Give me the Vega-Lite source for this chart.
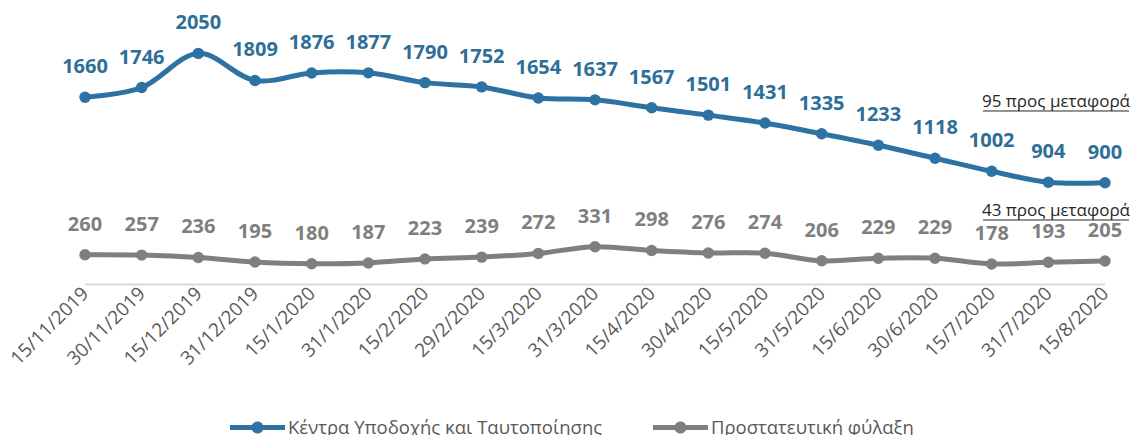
{
  "$schema": "https://vega.github.io/schema/vega-lite/v6.json",
  "width": 1020,
  "height": 270,
  "autosize": {"type": "none"},
  "padding": {"left": 85, "top": 14, "right": 25, "bottom": 151},
  "background": "white",
  "config": {
    "view": {"stroke": null},
    "font": "Open Sans"
  },
  "datasets": {
    "main": [
      {"date": "15/11/2019", "series": "Κέντρα Υποδοχής και Ταυτοποίησης", "value": 1660},
      {"date": "30/11/2019", "series": "Κέντρα Υποδοχής και Ταυτοποίησης", "value": 1746},
      {"date": "15/12/2019", "series": "Κέντρα Υποδοχής και Ταυτοποίησης", "value": 2050},
      {"date": "31/12/2019", "series": "Κέντρα Υποδοχής και Ταυτοποίησης", "value": 1809},
      {"date": "15/1/2020", "series": "Κέντρα Υποδοχής και Ταυτοποίησης", "value": 1876},
      {"date": "31/1/2020", "series": "Κέντρα Υποδοχής και Ταυτοποίησης", "value": 1877},
      {"date": "15/2/2020", "series": "Κέντρα Υποδοχής και Ταυτοποίησης", "value": 1790},
      {"date": "29/2/2020", "series": "Κέντρα Υποδοχής και Ταυτοποίησης", "value": 1752},
      {"date": "15/3/2020", "series": "Κέντρα Υποδοχής και Ταυτοποίησης", "value": 1654},
      {"date": "31/3/2020", "series": "Κέντρα Υποδοχής και Ταυτοποίησης", "value": 1637},
      {"date": "15/4/2020", "series": "Κέντρα Υποδοχής και Ταυτοποίησης", "value": 1567},
      {"date": "30/4/2020", "series": "Κέντρα Υποδοχής και Ταυτοποίησης", "value": 1501},
      {"date": "15/5/2020", "series": "Κέντρα Υποδοχής και Ταυτοποίησης", "value": 1431},
      {"date": "31/5/2020", "series": "Κέντρα Υποδοχής και Ταυτοποίησης", "value": 1335},
      {"date": "15/6/2020", "series": "Κέντρα Υποδοχής και Ταυτοποίησης", "value": 1233},
      {"date": "30/6/2020", "series": "Κέντρα Υποδοχής και Ταυτοποίησης", "value": 1118},
      {"date": "15/7/2020", "series": "Κέντρα Υποδοχής και Ταυτοποίησης", "value": 1002},
      {"date": "31/7/2020", "series": "Κέντρα Υποδοχής και Ταυτοποίησης", "value": 904},
      {"date": "15/8/2020", "series": "Κέντρα Υποδοχής και Ταυτοποίησης", "value": 900},
      {"date": "15/11/2019", "series": "Προστατευτική φύλαξη", "value": 260},
      {"date": "30/11/2019", "series": "Προστατευτική φύλαξη", "value": 257},
      {"date": "15/12/2019", "series": "Προστατευτική φύλαξη", "value": 236},
      {"date": "31/12/2019", "series": "Προστατευτική φύλαξη", "value": 195},
      {"date": "15/1/2020", "series": "Προστατευτική φύλαξη", "value": 180},
      {"date": "31/1/2020", "series": "Προστατευτική φύλαξη", "value": 187},
      {"date": "15/2/2020", "series": "Προστατευτική φύλαξη", "value": 223},
      {"date": "29/2/2020", "series": "Προστατευτική φύλαξη", "value": 239},
      {"date": "15/3/2020", "series": "Προστατευτική φύλαξη", "value": 272},
      {"date": "31/3/2020", "series": "Προστατευτική φύλαξη", "value": 331},
      {"date": "15/4/2020", "series": "Προστατευτική φύλαξη", "value": 298},
      {"date": "30/4/2020", "series": "Προστατευτική φύλαξη", "value": 276},
      {"date": "15/5/2020", "series": "Προστατευτική φύλαξη", "value": 274},
      {"date": "31/5/2020", "series": "Προστατευτική φύλαξη", "value": 206},
      {"date": "15/6/2020", "series": "Προστατευτική φύλαξη", "value": 229},
      {"date": "30/6/2020", "series": "Προστατευτική φύλαξη", "value": 229},
      {"date": "15/7/2020", "series": "Προστατευτική φύλαξη", "value": 178},
      {"date": "31/7/2020", "series": "Προστατευτική φύλαξη", "value": 193},
      {"date": "15/8/2020", "series": "Προστατευτική φύλαξη", "value": 205}
    ],
    "notes": [
      {"date": "15/8/2020", "value": 1573, "line": 1538, "label": "95 προς μεταφορά"},
      {"date": "15/8/2020", "value": 604, "line": 569, "label": "43 προς μεταφορά"}
    ]
  },
  "encoding": {
    "x": {
      "field": "date",
      "type": "ordinal",
      "sort": null,
      "scale": {"type": "point", "padding": 0},
      "axis": {
        "title": null,
        "labelAngle": -45,
        "labelAlign": "right",
        "labelBaseline": "middle",
        "labelFontSize": 19,
        "labelColor": "#595959",
        "labelPadding": 6,
        "ticks": false,
        "domainColor": "#D9D9D9",
        "domainWidth": 2,
        "grid": false,
        "labelOverlap": false
      }
    }
  },
  "layer": [
    {
      "data": {"name": "main"},
      "mark": {"type": "line", "interpolate": "catmull-rom", "strokeWidth": 5, "point": {"filled": true, "size": 130}},
      "encoding": {
        "y": {"field": "value", "type": "quantitative", "scale": {"domain": [0, 2400]}, "axis": null},
        "color": {
          "field": "series",
          "type": "nominal",
          "scale": {"domain": ["Κέντρα Υποδοχής και Ταυτοποίησης", "Προστατευτική φύλαξη"], "range": ["#2E71A3", "#7F7F7F"]},
          "legend": {
            "title": null,
            "orient": "none",
            "direction": "horizontal",
            "legendX": 145,
            "legendY": 386,
            "labelFontSize": 18.5,
            "labelColor": "#595959",
            "labelLimit": 500,
            "symbolType": "M-1,-0.09L1,-0.09L1,0.09L-1,0.09Z M0.22,0A0.22,0.22,0,1,1,-0.22,0A0.22,0.22,0,1,1,0.22,0Z",
            "symbolSize": 3025,
            "symbolStrokeWidth": 0,
            "columnPadding": 50,
            "labelOffset": 3
          }
        }
      }
    },
    {
      "data": {"name": "main"},
      "transform": [{"filter": "datum.series === 'Κέντρα Υποδοχής και Ταυτοποίησης'"}],
      "mark": {"type": "text", "fontWeight": "bold", "fontSize": 20, "color": "#2E6F98", "dy": -30},
      "encoding": {
        "y": {"field": "value", "type": "quantitative"},
        "text": {"field": "value", "type": "quantitative"}
      }
    },
    {
      "data": {"name": "main"},
      "transform": [{"filter": "datum.series === 'Προστατευτική φύλαξη'"}],
      "mark": {"type": "text", "fontWeight": "bold", "fontSize": 20, "color": "#7F7F7F", "dy": -30},
      "encoding": {
        "y": {"field": "value", "type": "quantitative"},
        "text": {"field": "value", "type": "quantitative"}
      }
    },
    {
      "data": {"name": "notes"},
      "mark": {"type": "text", "align": "right", "baseline": "alphabetic", "fontSize": 17, "color": "#262626", "dx": 25},
      "encoding": {
        "y": {"field": "value", "type": "quantitative"},
        "text": {"field": "label"}
      }
    },
    {
      "data": {"name": "notes"},
      "mark": {"type": "rule", "color": "#262626", "strokeWidth": 1, "xOffset": -122, "x2Offset": 24},
      "encoding": {
        "y": {"field": "line", "type": "quantitative"},
        "x2": {"field": "date"}
      }
    }
  ]
}
